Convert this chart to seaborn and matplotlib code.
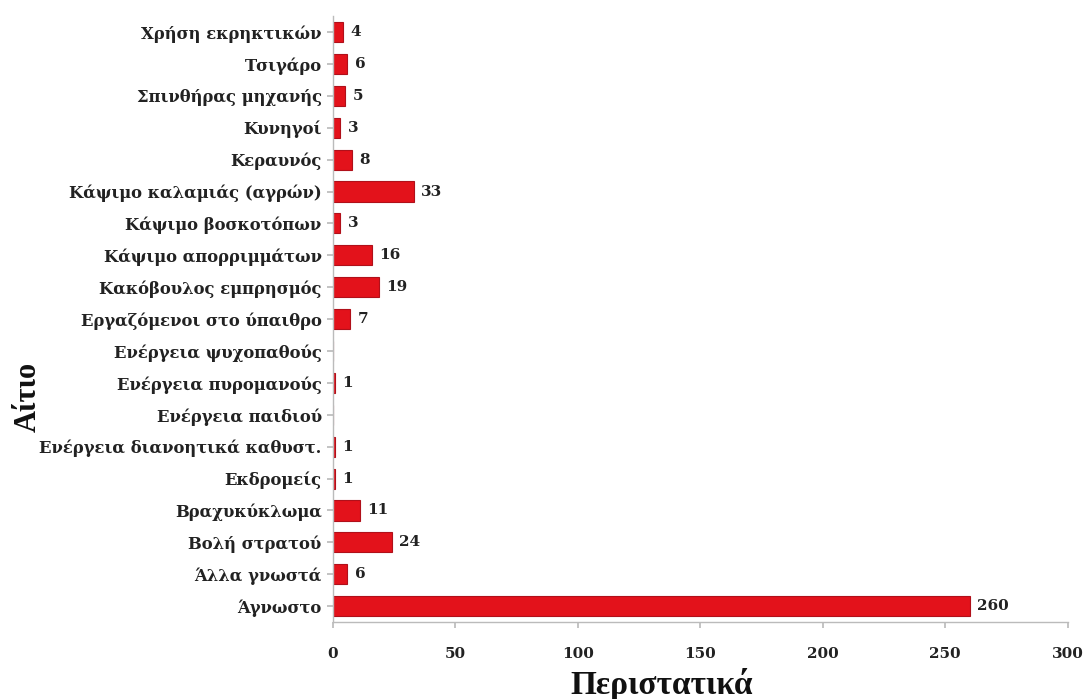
import matplotlib
matplotlib.use("Agg")
import matplotlib.pyplot as plt
import seaborn as sns
import pandas as pd

categories = [
    "Χρήση εκρηκτικών", "Τσιγάρο", "Σπινθήρας μηχανής", "Κυνηγοί", "Κεραυνός",
    "Κάψιμο καλαμιάς (αγρών)", "Κάψιμο βοσκοτόπων", "Κάψιμο απορριμμάτων",
    "Κακόβουλος εμπρησμός", "Εργαζόμενοι στο ύπαιθρο", "Ενέργεια ψυχοπαθούς",
    "Ενέργεια πυρομανούς", "Ενέργεια παιδιού", "Ενέργεια διανοητικά καθυστ.",
    "Εκδρομείς", "Βραχυκύκλωμα", "Βολή στρατού", "Άλλα γνωστά", "Άγνωστο",
]
values = [4, 6, 5, 3, 8, 33, 3, 16, 19, 7, 0, 1, 0, 1, 1, 11, 24, 6, 260]
x_ticks = [0, 50, 100, 150, 200, 250, 300]

sns.set_theme(style="white")
plt.rcParams["font.family"] = ["DejaVu Serif", "Liberation Serif"]

df = pd.DataFrame({"cause": categories, "count": values})

fig = plt.figure(figsize=(10.84, 6.99), dpi=100)
ax = fig.add_axes([0.307, 0.110, 0.678, 0.867])
sns.barplot(data=df, x="count", y="cause", orient="h", color="#E3121B",
            saturation=1, width=0.63, edgecolor="#B0101A", linewidth=0.8, ax=ax)

for i, v in enumerate(values):
    if v > 0:
        ax.text(v + 3, i, str(v), va="center", ha="left", fontsize=11,
                fontweight="bold", color="#222222")

ax.set_xlim(0, 300)
ax.set_ylim(len(categories) - 0.5, -0.5)
ax.set_xticks(x_ticks)
ax.set_xticklabels([str(t) for t in x_ticks], fontsize=11, fontweight="bold", color="#222222")
ax.tick_params(axis="x", which="both", bottom=True, length=4, color="#BBBBBB", pad=14)
ax.tick_params(axis="y", which="both", left=True, length=4, color="#BBBBBB", pad=4)
for lbl in ax.get_yticklabels():
    lbl.set_fontsize(11.8)
    lbl.set_fontweight("bold")
    lbl.set_color("#222222")
ax.set_xlabel("Περιστατικά", fontsize=24, fontweight="bold", color="#111111",
              family="Liberation Serif")
ax.xaxis.set_label_coords(0.448, -0.075)
ax.set_ylabel("")
fig.text(0.026, 0.432, "Αίτιο", rotation=90, fontsize=22, fontweight="bold",
         color="#111111", ha="center", va="center", family="Liberation Serif")

for s in ["top", "right"]:
    ax.spines[s].set_visible(False)
for s in ["left", "bottom"]:
    ax.spines[s].set_color("#BBBBBB")
    ax.spines[s].set_linewidth(1)

fig.savefig("out.png", dpi=100)
